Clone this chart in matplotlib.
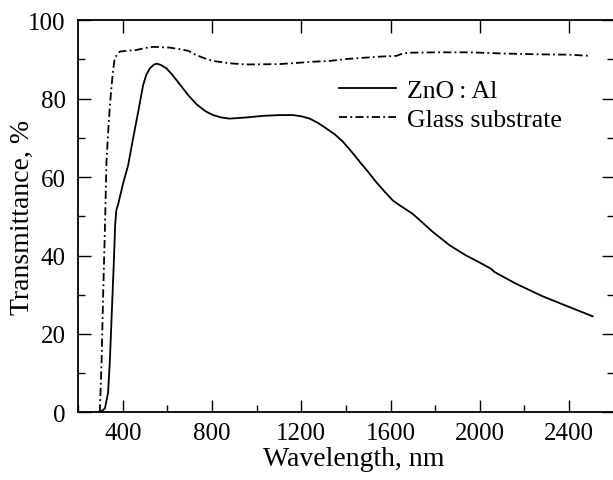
import matplotlib
matplotlib.use("Agg")
import matplotlib.pyplot as plt
from matplotlib.ticker import MultipleLocator

plt.rcParams['font.family'] = ['Liberation Serif', 'DejaVu Serif']

# ZnO:Al film transmittance
zno_wl = [252, 297, 320, 334, 342, 354, 361, 366, 371, 379, 401, 424, 446, 469, 491, 505,
          521, 540, 554, 570, 596, 620, 641, 670, 693, 730, 770, 805, 840, 879, 954,
          1028, 1103, 1163, 1200, 1238, 1275, 1312, 1350, 1387, 1425, 1462, 1500, 1536,
          1575, 1611, 1641, 1700, 1790, 1865, 1939, 2000, 2051, 2066, 2163, 2282, 2387, 2506]
zno_t = [0, 0, 1, 5, 13, 30, 40, 48, 51.5, 53, 58.3, 63, 69.8, 76.6, 83.4, 86,
         87.7, 88.7, 88.9, 88.6, 87.7, 86.2, 84.7, 82.6, 80.9, 78.6, 76.8, 75.8, 75.2, 74.9, 75.2,
         75.6, 75.8, 75.8, 75.5, 74.9, 73.8, 72.4, 70.9, 69, 66.5, 63.9, 61.3, 58.7,
         56.2, 54, 52.8, 50.6, 46, 42.6, 40, 38.2, 36.6, 35.8, 32.8, 29.6, 27.2, 24.5]

# Glass substrate transmittance
glass_wl = [297, 305, 312, 320, 327, 334, 342, 350, 357, 364, 375, 387, 420, 461, 500,
            536, 611, 655, 693, 730, 770, 805, 879, 954, 1103, 1178, 1252, 1327, 1402,
            1476, 1551, 1626, 1655, 1685, 1805, 1954, 2103, 2253, 2402, 2491]
glass_t = [0, 13, 30, 47, 64, 71, 78, 83.4, 87.5, 90.2, 91.3, 92, 92.2, 92.4, 92.9,
           93.2, 93, 92.6, 92.2, 91.1, 90.2, 89.6, 89, 88.7, 88.8, 89.1, 89.4, 89.6, 90.1,
           90.4, 90.7, 90.9, 91.5, 91.7, 91.8, 91.8, 91.5, 91.3, 91.2, 90.9]

x_major = [400, 800, 1200, 1600, 2000, 2400]
y_major = [0, 20, 40, 60, 80, 100]

fig = plt.figure(figsize=(6.13, 4.81), dpi=100)
ax = fig.add_axes([0.1275, 0.1405, 0.8735, 0.8155])

ax.plot(zno_wl, zno_t, color='black', lw=1.3, label='ZnO\u2009:\u2009Al')
ax.plot(glass_wl, glass_t, color='black', lw=1.3, dashes=(4.5, 1.8, 1.0, 1.8),
        label='Glass substrate')

ax.set_xlim(200, 2600)
ax.set_ylim(0, 100)
ax.set_xticks(x_major)
ax.set_yticks(y_major)
ax.xaxis.set_minor_locator(MultipleLocator(200))
ax.yaxis.set_minor_locator(MultipleLocator(10))

ax.tick_params(which='both', direction='in', width=1.0, labelsize=18)
ax.tick_params(which='major', length=9, pad=7)
ax.tick_params(which='minor', length=5)
ax.tick_params(axis='y', which='major', pad=9)
ax.tick_params(axis='y', which='both', right=True)
ax.tick_params(axis='x', which='major', top=True)
ax.tick_params(axis='x', which='minor', top=False)
for s in ax.spines.values():
    s.set_linewidth(1.3)

ax.set_xlabel('Wavelength, nm', fontsize=20)
ax.set_ylabel('Transmittance, %', fontsize=20)
ax.xaxis.set_label_coords(0.514, -0.085, transform=ax.transAxes)
ax.yaxis.set_label_coords(-0.080, 0.5, transform=ax.transAxes)

leg = ax.legend(frameon=False, fontsize=18.5, handlelength=2.2, handletextpad=0.45,
                labelspacing=0.22, loc='upper left', bbox_to_anchor=(0.468, 0.875),
                borderaxespad=0)

fig.savefig('out.png', dpi=100)
